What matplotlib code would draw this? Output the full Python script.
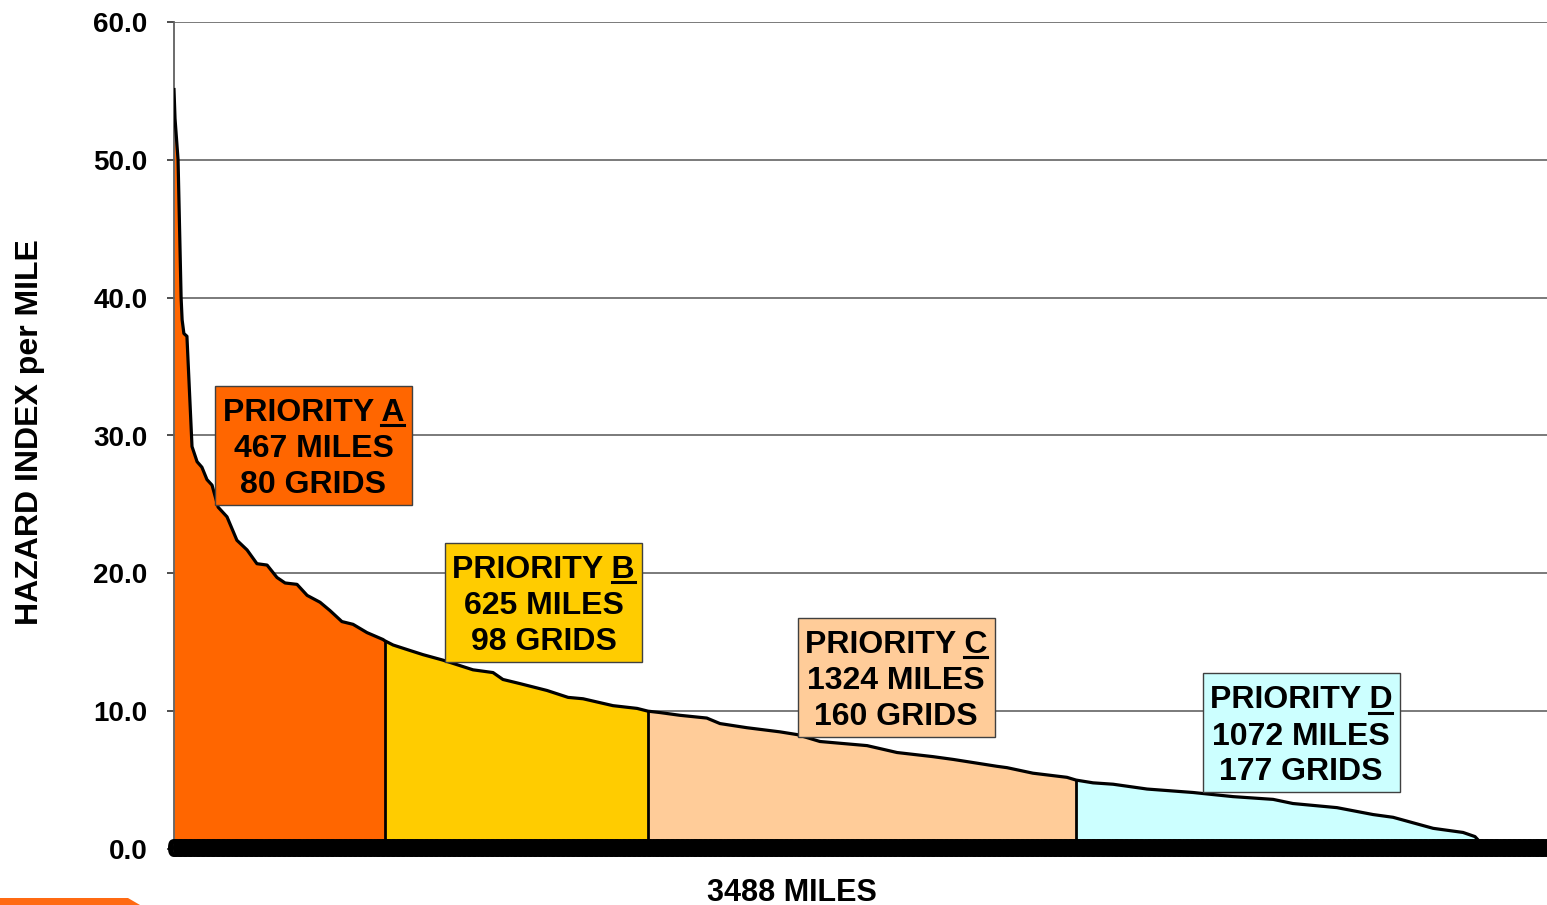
import matplotlib
matplotlib.use("Agg")
import matplotlib.pyplot as plt
import matplotlib.transforms as mtransforms
from matplotlib.patches import Rectangle, Polygon
from matplotlib.lines import Line2D
import numpy as np

plt.rcParams["font.family"] = ["Liberation Sans", "DejaVu Sans"]

# Sorted hazard index per mile along the ranked grid sequence
grid_pos = [0, 0.4, 1.6, 2.8, 3.2, 3.9, 5.1, 7.1, 9.1, 11.0, 13.0, 15.0, 17.4,
            20.9, 24.8, 28.8, 32.7, 36.7, 40.6, 43.8, 48.5, 52.5, 57.6, 61.5,
            66.2, 70.6, 76.1, 82.4, 83.2, 86.4, 93.1, 98.2, 106.1, 117.9,
            125.8, 129.7, 136.4, 147.1, 155.4, 161.3, 173.1, 182.6, 186.9,
            191.6, 199.5, 210.1, 215.3, 225.9, 238.9, 245.7, 254.7, 273.3,
            285.1, 299.3, 307.2, 324.5, 328.5, 338.7, 352.1, 355.7, 362.4,
            370.3, 383.7, 401.8, 417.6, 433.4, 441.2, 458.6, 472.8, 480.7,
            488.6, 496.5, 508.3, 513.0, 515.0]
hazard = [55.1, 53.0, 50.0, 40.0, 38.4, 37.4, 37.2, 29.2, 28.1, 27.7, 26.8,
          26.4, 24.8, 24.1, 22.4, 21.7, 20.7, 20.6, 19.7, 19.3, 19.2, 18.4,
          17.9, 17.3, 16.5, 16.3, 15.7, 15.2, 15.1, 14.8, 14.4, 14.1, 13.7,
          13.0, 12.8, 12.3, 12.0, 11.5, 11.0, 10.9, 10.4, 10.2, 10.0, 9.9,
          9.7, 9.5, 9.1, 8.8, 8.5, 8.3, 7.8, 7.5, 7.0, 6.7, 6.5, 6.0, 5.9,
          5.5, 5.2, 5.0, 4.8, 4.7, 4.35, 4.1, 3.8, 3.6, 3.3, 3.0, 2.5, 2.3,
          1.9, 1.5, 1.2, 0.9, 0.5]

band_edges = [0, 83.2, 186.9, 355.7, 515.0]
band_colors = ["#FF6600", "#FFCC00", "#FFCC99", "#CCFFFF"]
priorities = ["A", "B", "C", "D"]
band_miles = [467, 625, 1324, 1072]
band_grids = [80, 98, 160, 177]
total_miles = 3488
n_categories = 542
y_ticks = [0, 10, 20, 30, 40, 50, 60]

x = np.array(grid_pos)
y = np.array(hazard)

W, H = 1547, 905
fig = plt.figure(figsize=(W / 100, H / 100), dpi=100)
ax = fig.add_axes([174 / W, 56 / H, (W - 174) / W, 827 / H])
ax.set_xlim(0, 541.4)
ax.set_ylim(0, 60)

# filled priority bands
for i, color in enumerate(band_colors):
    lo, hi = band_edges[i], band_edges[i + 1]
    m = (x >= lo - 1e-9) & (x <= hi + 1e-9)
    ax.fill_between(x[m], y[m], 0, color=color, lw=0, zorder=2)

ax.plot(x, y, color="black", lw=2.3, zorder=3, solid_joinstyle="round")
inner = band_edges[1:-1]
ax.vlines(inner, 0, np.interp(inner, x, y), color="black", lw=2, zorder=3)

# axes styling
for s in ["top", "right", "bottom"]:
    ax.spines[s].set_visible(False)
ax.spines["left"].set_color("#606060")
ax.spines["left"].set_linewidth(1.3)
ax.set_axisbelow(True)
ax.yaxis.grid(True, color="#707070", lw=1.3)
ax.set_yticks(y_ticks)
ax.set_yticklabels([f"{v:.1f}" for v in y_ticks], fontsize=20, fontweight="bold")
ax.tick_params(axis="y", direction="out", length=5, width=1.2, color="#303030", pad=14)

# dense category labels along the x axis, drawn over the bands
ax.set_xticks(np.arange(n_categories))
ax.set_xticklabels(["0"] * n_categories, fontsize=19, fontweight="bold")
ax.tick_params(axis="x", length=0, pad=1.0)
for lab in ax.get_xticklabels():
    lab.set_verticalalignment("center")
ax.xaxis.set_zorder(4)

ax.set_xlabel(f"{total_miles} MILES", fontsize=22, fontweight="bold")
ax.xaxis.set_label_coords(0.45, -0.035)
ax.set_ylabel("HAZARD INDEX per MILE", fontsize=23, fontweight="bold")
ax.yaxis.set_label_coords(-0.094, 0.5036)

# priority boxes
box_centers = [(55.0, 29.28), (145.7, 17.92), (284.7, 12.45), (444.4, 8.42)]
box_w, box_h = 197, 119
line_offsets = [24.5, -12.0, -47.5]
ident = mtransforms.IdentityTransform()
first_lines = []
for (cx, cy), color, p, mi, gr in zip(box_centers, band_colors, priorities,
                                      band_miles, band_grids):
    dx, dy = ax.transData.transform((cx, cy))
    rect = Rectangle((dx - box_w / 2, dy - box_h / 2), box_w, box_h,
                     facecolor=color, edgecolor="#404040", lw=1.0,
                     transform=ident, zorder=5)
    ax.add_artist(rect)
    lines = [f"PRIORITY {p}", f"{mi} MILES", f"{gr} GRIDS"]
    for k, (txt, off) in enumerate(zip(lines, line_offsets)):
        t = ax.text(cx, cy, txt, ha="center", va="baseline", fontsize=23,
                    fontweight="bold", zorder=6,
                    transform=mtransforms.offset_copy(ax.transData, fig=fig,
                                                      x=0, y=off, units="dots"))
        if k == 0:
            first_lines.append((t, p, dy + off))

# underline the priority letter
fig.canvas.draw()
renderer = fig.canvas.get_renderer()
for t, p, base in first_lines:
    bb = t.get_window_extent(renderer)
    tmp = ax.text(0, 0, p, fontsize=23, fontweight="bold")
    wl = tmp.get_window_extent(renderer).width
    tmp.remove()
    ul = Line2D([bb.x1 - wl, bb.x1], [base - 4.5, base - 4.5], color="black",
                lw=2.2, transform=ident, zorder=7)
    fig.add_artist(ul)

# slide accent at the lower left
fig.add_artist(Polygon([(0, 0), (0, 7), (128, 7), (140, 0)], closed=True,
                       facecolor="#FF6A13", edgecolor="none", transform=ident))

fig.savefig("out.png", dpi=100)
